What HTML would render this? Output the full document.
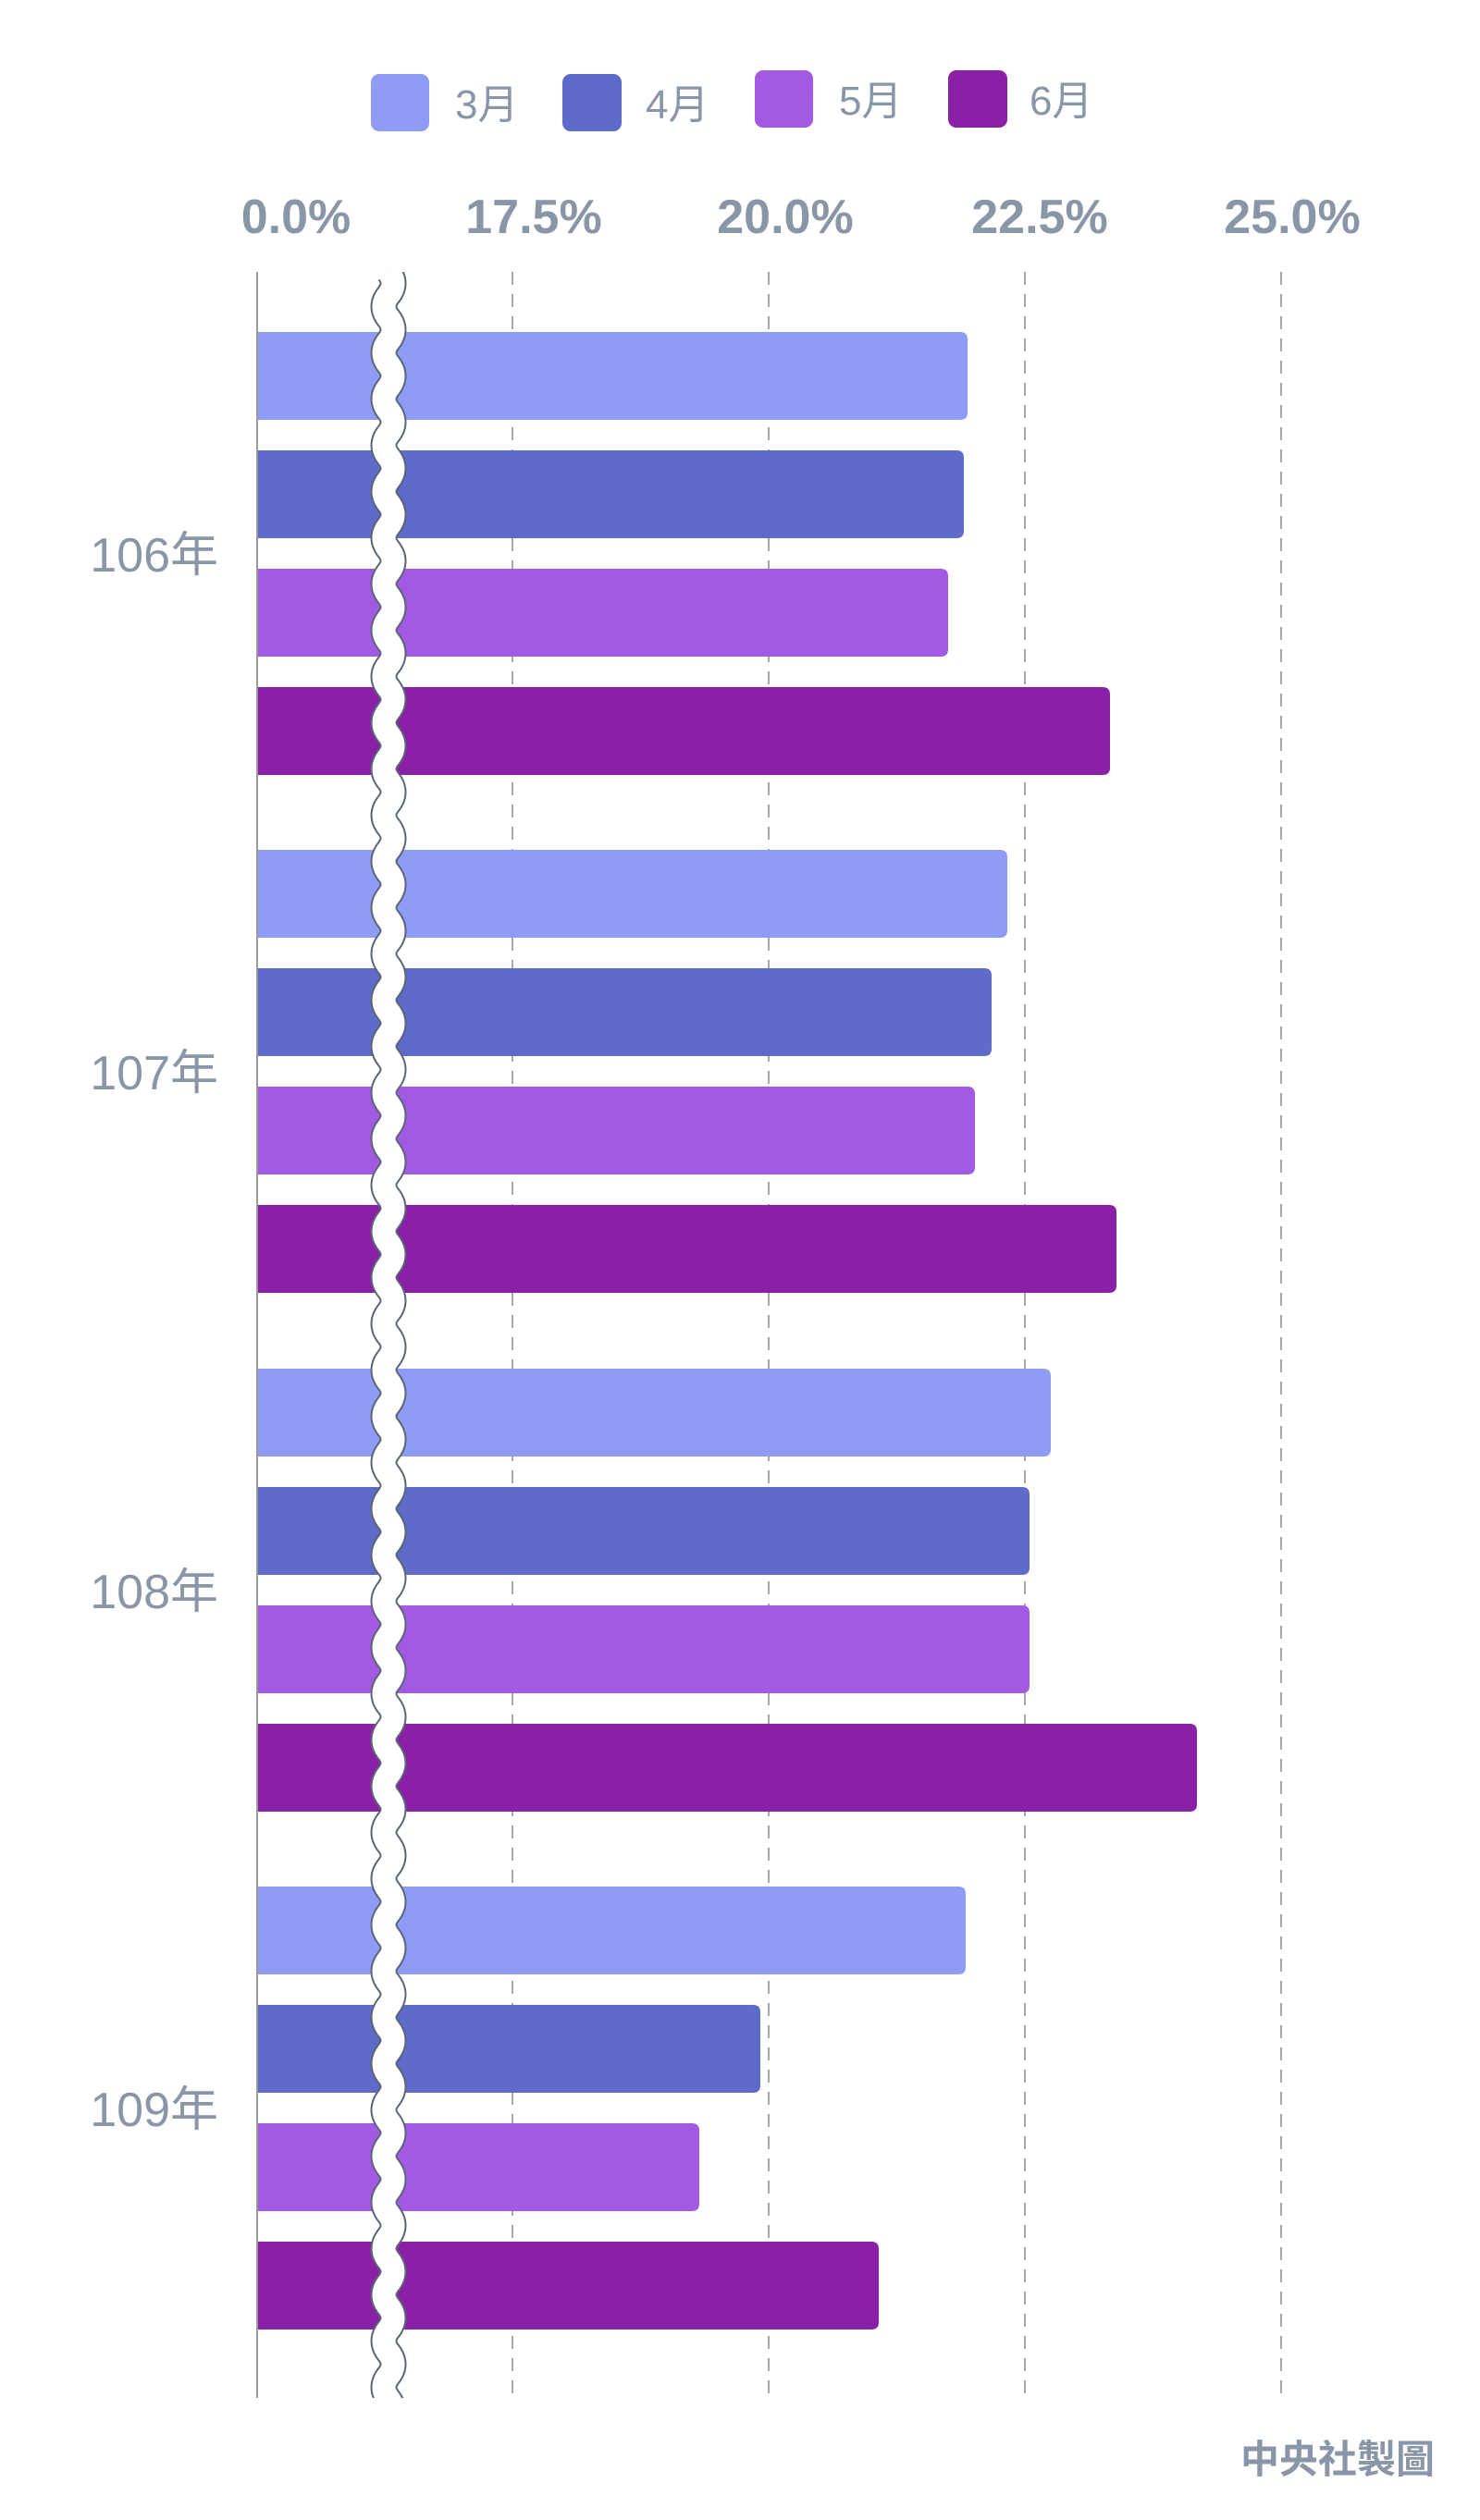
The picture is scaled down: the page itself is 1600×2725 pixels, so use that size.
<!DOCTYPE html>
<html><head><meta charset="utf-8"><style>
html,body{margin:0;padding:0;background:#fff;}
svg text{font-family:"Liberation Sans","Noto Sans CJK TC",sans-serif;fill:#8996a8;}
</style></head><body>
<svg id="s" width="1600" height="2720" viewBox="0 0 1600 2720" xmlns="http://www.w3.org/2000/svg">
<defs><clipPath id="cp"><rect x="0" y="294" width="1600" height="2299"/></clipPath></defs>
<rect x="401" y="80" width="63" height="62" rx="9" fill="#8f9cf5"/>
<text x="492" y="128" font-size="44">3月</text>
<rect x="608" y="80" width="64" height="62" rx="9" fill="#5e6bc9"/>
<text x="698" y="128" font-size="44">4月</text>
<rect x="816" y="76" width="63" height="62" rx="9" fill="#a35ae2"/>
<text x="907" y="124" font-size="44">5月</text>
<rect x="1025" y="76" width="64" height="62" rx="9" fill="#8a20a6"/>
<text x="1113" y="124" font-size="44">6月</text>
<g font-size="52" font-weight="bold" text-anchor="middle">
<text x="320" y="252">0.0%</text>
<text x="577" y="252">17.5%</text>
<text x="849" y="252">20.0%</text>
<text x="1124" y="252">22.5%</text>
<text x="1397" y="252">25.0%</text>
</g>
<g stroke="#a8a8a8" stroke-width="2" stroke-dasharray="14,10">
<line x1="554" y1="294" x2="554" y2="2593"/>
<line x1="831" y1="294" x2="831" y2="2593"/>
<line x1="1108" y1="294" x2="1108" y2="2593"/>
<line x1="1385" y1="294" x2="1385" y2="2593"/>
</g>
<g id="bars"></g>
<line x1="278" y1="294" x2="278" y2="2593" stroke="#999" stroke-width="2"/>
<g clip-path="url(#cp)">
<path id="w1" fill="none" stroke="#5a6575" stroke-width="29"/>
<path id="w2" fill="none" stroke="#fff" stroke-width="25"/>
</g>
<g font-size="52" text-anchor="end">
<text x="236" y="618">106年</text>
<text x="236" y="1178">107年</text>
<text x="236" y="1739">108年</text>
<text x="236" y="2299">109年</text>
</g>
<text x="1551" y="2674" font-size="42" font-weight="bold" text-anchor="end">中央社製圖</text>
</svg>
<script>
var cols=["#8f9cf5","#5e6bc9","#a35ae2","#8a20a6"];
var ends=[[1046,1042,1025,1200],[1089,1072,1054,1207],[1136,1113,1113,1294],[1044,822,756,950]];
var tops=[359,919,1480,2040];
var g=document.getElementById("bars"),h="";
for(var i=0;i<4;i++)for(var j=0;j<4;j++){var y=tops[i]+j*128,x=ends[i][j];
h+='<path d="M278,'+y+' H'+(x-8)+' Q'+x+','+y+' '+x+','+(y+8)+' V'+(y+87)+' Q'+x+','+(y+95)+' '+(x-8)+','+(y+95)+' H278 Z" fill="'+cols[j]+'"/>';}
g.innerHTML=h;
var d="M420,294 q10,12.5 0,25";for(var k=0;k<93;k++)d+=" t0,25";
document.getElementById("w1").setAttribute("d",d);
document.getElementById("w2").setAttribute("d",d);
</script>
</body></html>
